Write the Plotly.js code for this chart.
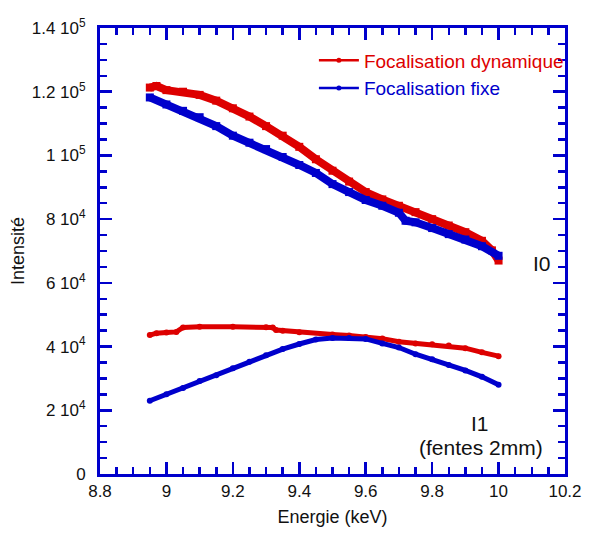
<!DOCTYPE html>
<html>
<head>
<meta charset="utf-8">
<script src="https://cdn.plot.ly/plotly-3.0.1.min.js"></script>
<style>
html,body{margin:0;padding:0;background:#fff;}
#chart{width:594px;height:534px;}
</style>
</head>
<body>
<div id="chart"></div>
<script>
// I0, Focalisation dynamique (red)
const e_I0_dyn = [8.95, 8.97, 9.00, 9.05, 9.10, 9.15, 9.20, 9.25, 9.30, 9.35, 9.40, 9.45, 9.50, 9.55, 9.60, 9.65, 9.70, 9.75, 9.80, 9.85, 9.90, 9.95, 9.98, 10.00];
const I0_dyn = [121300, 121800, 120500, 120000, 119000, 117200, 114800, 112200, 109200, 106200, 102700, 98800, 95200, 91800, 88500, 86200, 84200, 82200, 80000, 78000, 75900, 73200, 70200, 67000];
// I0, Focalisation fixe (blue)
const e_I0_fix = [8.95, 9.00, 9.05, 9.10, 9.15, 9.20, 9.25, 9.30, 9.35, 9.40, 9.45, 9.50, 9.55, 9.60, 9.65, 9.70, 9.72, 9.75, 9.80, 9.85, 9.90, 9.95, 10.00];
const I0_fix = [118200, 116000, 114000, 112000, 109200, 106200, 104000, 102000, 99500, 97000, 94500, 91000, 88500, 86000, 84200, 82000, 79500, 79000, 77200, 75300, 73600, 71500, 68500];
// I1, Focalisation dynamique (red)
const e_I1_dyn = [8.95, 8.97, 9.00, 9.03, 9.05, 9.10, 9.20, 9.30, 9.32, 9.33, 9.35, 9.40, 9.50, 9.55, 9.60, 9.65, 9.70, 9.75, 9.80, 9.85, 9.90, 9.95, 10.00];
const I1_dyn = [43600, 44200, 44400, 44600, 46000, 46200, 46200, 46100, 46000, 45200, 45000, 44500, 43800, 43500, 43000, 42500, 41500, 41000, 40700, 40300, 39500, 38200, 37000];
// I1, Focalisation fixe (blue)
const e_I1_fix = [8.95, 9.00, 9.05, 9.10, 9.15, 9.20, 9.25, 9.30, 9.35, 9.40, 9.45, 9.50, 9.55, 9.60, 9.65, 9.70, 9.75, 9.80, 9.85, 9.90, 9.95, 10.00];
const I1_fix = [23000, 25000, 27000, 29200, 31000, 33200, 35200, 37300, 39200, 40800, 42200, 42700, 42700, 42400, 41000, 39700, 37600, 36000, 34200, 32500, 30500, 28000];

const yTickVals = [0, 20000, 40000, 60000, 80000, 100000, 120000, 140000];
const yTickText = ['0', '2 10<sup>4</sup>', '4 10<sup>4</sup>', '6 10<sup>4</sup>', '8 10<sup>4</sup>', '1 10<sup>5</sup>', '1.2 10<sup>5</sup>', '1.4 10<sup>5</sup>'];
const xTickVals = [8.8, 9.0, 9.2, 9.4, 9.6, 9.8, 10.0, 10.2];
const xTickText = ['8.8', '9', '9.2', '9.4', '9.6', '9.8', '10', '10.2'];

const seriesNames = ['Focalisation dynamique', 'Focalisation fixe'];

const RED = '#dd0000';
const BLUE = '#0000cc';
const AXIS = '#0000cc';
const FONT = 'Liberation Sans, Arial, sans-serif';

const traces = [
  {x: e_I0_dyn, y: I0_dyn, mode: 'lines+markers', line: {color: RED, width: 8}, marker: {symbol: 'square', size: 8, color: RED}, showlegend: false, legendgroup: 'a'},
  {x: e_I0_fix, y: I0_fix, mode: 'lines+markers', line: {color: BLUE, width: 8}, marker: {symbol: 'square', size: 8, color: BLUE}, showlegend: false, legendgroup: 'b'},
  {x: e_I1_dyn, y: I1_dyn, mode: 'lines+markers', line: {color: RED, width: 5}, marker: {symbol: 'circle', size: 6, color: RED}, showlegend: false, legendgroup: 'a'},
  {x: e_I1_fix, y: I1_fix, mode: 'lines+markers', line: {color: BLUE, width: 5}, marker: {symbol: 'circle', size: 6, color: BLUE}, showlegend: false, legendgroup: 'b'},
  {x: [null], y: [null], mode: 'lines+markers', name: '<span style="color:' + RED + '">' + seriesNames[0] + '</span>', line: {color: RED, width: 2.5}, marker: {symbol: 'circle', size: 5, color: RED}, legendgroup: 'a'},
  {x: [null], y: [null], mode: 'lines+markers', name: '<span style="color:' + BLUE + '">' + seriesNames[1] + '</span>', line: {color: BLUE, width: 2.5}, marker: {symbol: 'circle', size: 5, color: BLUE}, legendgroup: 'b'}
];

const axisCommon = {
  showgrid: false, zeroline: false, showline: true, linecolor: AXIS, linewidth: 3,
  mirror: 'ticks', ticks: 'inside', ticklen: 12, tickwidth: 2.5, tickcolor: AXIS,
  tickfont: {family: FONT, size: 17, color: '#111'}
};

const layout = {
  width: 594, height: 534,
  margin: {l: 100, r: 29, t: 28, b: 60},
  paper_bgcolor: '#fff', plot_bgcolor: '#fff',
  font: {family: FONT, color: '#111'},
  showlegend: true,
  legend: {x: 0.46, y: 0.97, xanchor: 'left', yanchor: 'top', bgcolor: 'rgba(0,0,0,0)', font: {size: 19}, itemwidth: 40, tracegroupgap: 0, traceorder: 'grouped'},
  xaxis: Object.assign({}, axisCommon, {
    range: [8.8, 10.2], tickmode: 'array', tickvals: xTickVals, ticktext: xTickText,
    ticklabelstandoff: 0,
    minor: {ticks: 'inside', ticklen: 7, tickwidth: 2.5, tickcolor: AXIS, tick0: 8.8, dtick: 0.05},
    title: {text: 'Energie (keV)', font: {size: 18}, standoff: 10}
  }),
  yaxis: Object.assign({}, axisCommon, {
    range: [0, 140000], tickmode: 'array', tickvals: yTickVals, ticktext: yTickText,
    ticklabelstandoff: 8,
    minor: {ticks: 'inside', ticklen: 7, tickwidth: 2.5, tickcolor: AXIS, tick0: 0, dtick: 5000},
    title: {text: 'Intensité', font: {size: 18}, standoff: 3}
  }),
  annotations: [
    {x: 10.13, y: 66000, xref: 'x', yref: 'y', text: 'I0', showarrow: false, font: {size: 21, color: '#111'}},
    {x: 9.945, y: 15700, xref: 'x', yref: 'y', text: 'I1', showarrow: false, font: {size: 21, color: '#111'}},
    {x: 9.948, y: 8200, xref: 'x', yref: 'y', text: '(fentes 2mm)', showarrow: false, font: {size: 21, color: '#111'}}
  ]
};

Plotly.newPlot('chart', traces, layout, {staticPlot: true, displayModeBar: false});
</script>
</body>
</html>
